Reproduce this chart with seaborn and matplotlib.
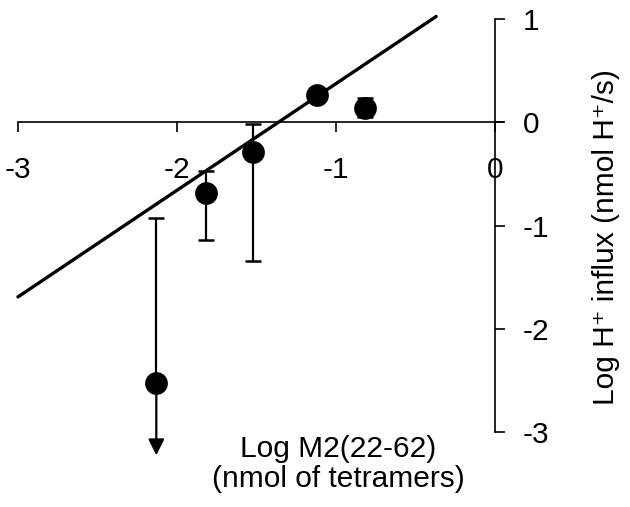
import matplotlib
matplotlib.use("Agg")
import matplotlib.pyplot as plt
import seaborn as sns
import pandas as pd

# Data
x_vals = [-2.13, -1.82, -1.52, -1.12, -0.82]
y_vals = [-2.52, -0.69, -0.29, 0.26, 0.14]
err_up = [1.59, 0.22, 0.27, 0.0, 0.09]
err_low = [0.0, 0.45, 1.05, 0.0, 0.09]
arrow_end = -3.22  # point 1 has an open lower bound (arrow)
fit_x = [-3.0, -0.37]
fit_y = [-1.69, 1.02]
x_ticks = [-3, -2, -1, 0]
y_ticks = [-3, -2, -1, 0, 1]

sns.set_theme(style="white")
plt.rcParams['font.family'] = ['Liberation Sans', 'DejaVu Sans']

fig = plt.figure(figsize=(6.3, 5.07), dpi=100)
ax = fig.add_axes([0, 0, 1, 1])
ax.set_xlim(-3.113, 0.849)
ax.set_ylim(-3.72, 1.179)

pts = pd.DataFrame({"x": x_vals, "y": y_vals})
fit = pd.DataFrame({"x": fit_x, "y": fit_y})

sns.lineplot(data=fit, x="x", y="y", ax=ax, color="black", lw=2.4, zorder=2)
ax.errorbar(x_vals, y_vals, yerr=[err_low, err_up], fmt="none", ecolor="black",
            elinewidth=1.6, capsize=5.5, capthick=1.8, zorder=3)
ax.annotate("", xy=(x_vals[0], arrow_end), xytext=(x_vals[0], y_vals[0]),
            arrowprops=dict(arrowstyle="-|>", lw=1.6, color="black",
                            mutation_scale=24, shrinkA=0, shrinkB=0), zorder=3)
sns.scatterplot(data=pts, x="x", y="y", ax=ax, color="black", s=230,
                edgecolor="black", zorder=4, legend=False)

# Axes through origin
for s in ["left", "top"]:
    ax.spines[s].set_visible(False)
ax.spines["right"].set_position(("data", 0))
ax.spines["bottom"].set_position(("data", 0))
ax.spines["right"].set_bounds(-3, 1)
ax.spines["bottom"].set_bounds(-3, 0.05)
for s in ["right", "bottom"]:
    ax.spines[s].set_color("black")
    ax.spines[s].set_linewidth(1.2)

ax.yaxis.tick_right()
ax.xaxis.tick_bottom()
ax.set_xticks(x_ticks)
ax.set_yticks(y_ticks)
ax.set_xticklabels([str(t) for t in x_ticks])
ax.set_yticklabels([str(t) for t in y_ticks])
ax.tick_params(axis="x", direction="out", length=7.5, width=1.2, pad=17,
               labelsize=21.5, colors="black")
ax.tick_params(axis="y", direction="out", length=7, width=1.2, pad=13,
               labelsize=21.5, colors="black")

ax.set_xlabel("Log M2(22-62)\n(nmol of tetramers)", fontsize=21.5, color="black",
              linespacing=1.08)
ax.xaxis.set_label_coords(0.537, 0.085)
ax.xaxis.label.set_va("center")
ax.yaxis.set_label_position("right")
ax.set_ylabel("Log H\u207a influx (nmol H\u207a/s)", fontsize=21.5, color="black")
ax.yaxis.set_label_coords(0.962, 0.533)
ax.yaxis.label.set_va("center")

fig.savefig("out.png", dpi=100)
